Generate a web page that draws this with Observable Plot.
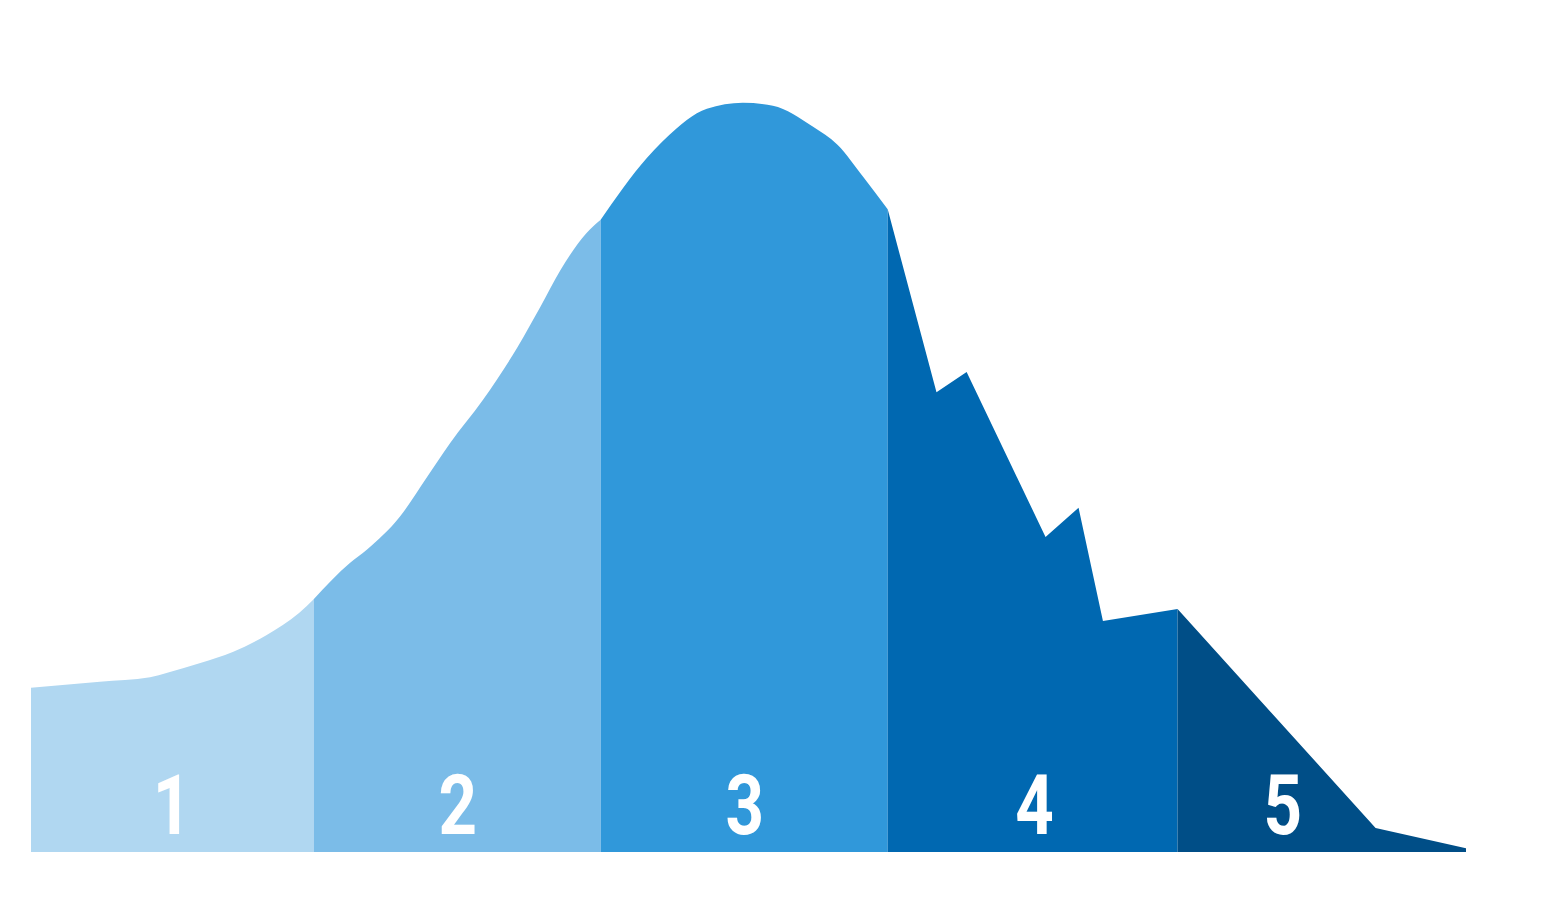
<!DOCTYPE html>
<html>
<head>
<meta charset="utf-8">
<script src="https://cdn.jsdelivr.net/npm/d3@7"></script>
<script src="https://cdn.jsdelivr.net/npm/@observablehq/plot@0.6"></script>
<style>
  html, body { margin: 0; padding: 0; background: #ffffff; }
  #chart svg { display: block; }
</style>
</head>
<body>
<div id="chart"></div>
<script>
// Profile of the curve (x: 0–100 position, y: 0–100 relative height)
const profileX = [0, 4.8, 8.3, 9.5, 11.8, 14.1, 16.4, 18.7, 19.7,
  22.2, 23.4, 25.7, 27.6, 29.2, 31.5, 33.9, 35.5, 36.9, 38.7, 39.7,
  42.9, 45.0, 45.7, 47.1, 49.6, 51.7, 54.5, 56.2, 58.0, 59.7,
  63.1, 65.2, 70.7, 73.0, 74.7, 79.9,
  93.7, 100];
const profileY = [21.9, 22.7, 23.3, 23.9, 25.2, 26.7, 28.9, 31.9, 33.7,
  38.5, 40.3, 44.7, 50.0, 54.5, 60.3, 67.3, 72.7, 77.6, 82.5, 84.3,
  92.5, 96.5, 97.6, 99.1, 99.9, 99.5, 96.7, 94.3, 90.0, 85.7,
  61.3, 64.0, 42.0, 45.9, 30.8, 32.4,
  3.2, 0.5];

// Segment boundaries, colours, curve style and labels
const segmentBounds = [0, 19.7, 39.7, 59.7, 79.9, 100];
const segmentColors = ["#b0d7f1", "#7bbce8", "#3098da", "#0068b1", "#004e87"];
const segmentCurves = ["monotone-x", "monotone-x", "monotone-x", "linear", "linear"];
const segmentLabels = ["1", "2", "3", "4", "5"];
const labelX = [9.8, 29.7, 49.7, 69.9, 87.2];
const labelY = 2.5;

const points = profileX.map((x, i) => ({x, y: profileY[i]}));

const areaMarks = segmentLabels.map((lab, i) => {
  const lo = segmentBounds[i], hi = segmentBounds[i + 1];
  const seg = points.filter(p => p.x >= lo - 1e-9 && p.x <= hi + 1e-9);
  return Plot.areaY(seg, {x: "x", y: "y", fill: segmentColors[i], curve: segmentCurves[i]});
});

const labels = segmentLabels.map((t, i) => ({t, x: labelX[i], y: labelY}));

const chart = Plot.plot({
  width: 1558,
  height: 901,
  marginLeft: 31,
  marginRight: 92,
  marginTop: 102,
  marginBottom: 49,
  style: {background: "#ffffff"},
  x: {domain: [0, 100], axis: null},
  y: {domain: [0, 100], axis: null},
  marks: [
    ...areaMarks,
    Plot.text(labels, {
      x: "x", y: "y", text: "t",
      fill: "#ffffff",
      fontSize: 84,
      fontWeight: "bold",
      fontFamily: "Roboto, sans-serif",
      lineAnchor: "bottom",
      textAnchor: "middle",
      className: "seglabel"
    })
  ]
});
// narrow the digits horizontally, as in the reference
d3.select(chart).selectAll(".seglabel text").each(function() {
  const t = this.getAttribute("transform") || "";
  this.setAttribute("transform", t + " scale(0.8,1)");
});
document.getElementById("chart").appendChild(chart);
</script>
</body>
</html>
